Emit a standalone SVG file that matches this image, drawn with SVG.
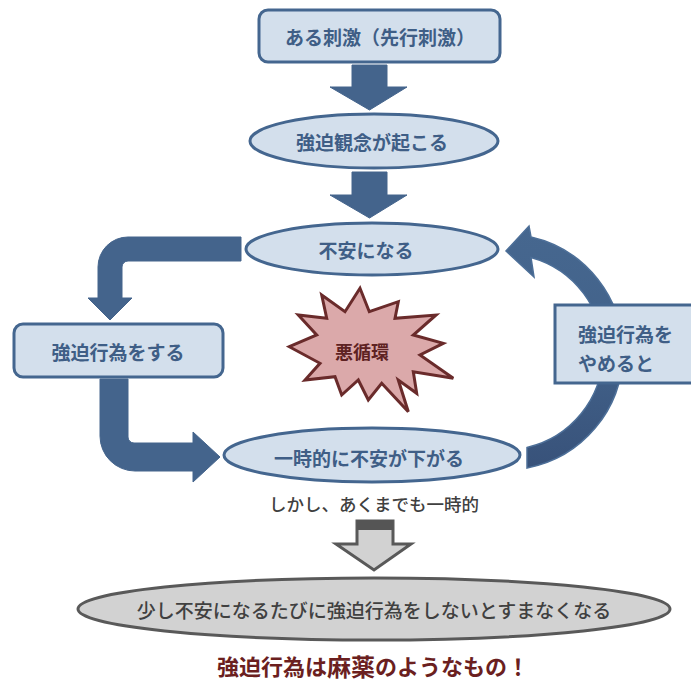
<svg xmlns="http://www.w3.org/2000/svg" width="691" height="682" viewBox="0 0 691 682">
<defs>
<linearGradient id="arcg" x1="0" y1="0" x2="0" y2="1">
<stop offset="0" stop-color="#46678f"/>
<stop offset="0.5" stop-color="#42628a"/>
<stop offset="1" stop-color="#38527a"/>
</linearGradient>
</defs>
<style>
.node{fill:#d3dfec;stroke:#44668f;stroke-width:3}
.t{font-family:"Noto Sans CJK JP","Noto Sans",sans-serif;font-weight:bold;font-size:19px;fill:#3f5e86;text-anchor:middle;dominant-baseline:central}
.arr{fill:#44648c;stroke:#44648c;stroke-width:1}
.gray{fill:#d2d2d2;stroke:#595959;stroke-width:3}
</style>
<rect width="691" height="682" fill="#ffffff"/>
<g id="connectors">
<path class="arr" d="M352 65 L387 65 L387 87 L407 87 L369.5 110 L330 87 L352 87 Z"/>
<path class="arr" d="M352 172 L387 172 L387 195 L407 195 L369.5 218 L330 195 L352 195 Z"/>
<path class="arr" d="M241 237 L128 237 A30 30 0 0 0 98 267 L98 298 L88 298 L110 320 L132 298 L122 298 L122 267 A6 6 0 0 1 128 261 L241 261 Z"/>
<path class="arr" d="M100 379 L128 379 L128 437 A6 6 0 0 0 134 443 L193 443 L193 432 L220 457 L193 482 L193 471 L135 471 A35 35 0 0 1 100 436 Z"/>
<path d="M531 237 A118 118 0 0 1 527 468 L527 447.5 A98 98 0 0 0 531 257.5 L534 277 L506 251 L529 226 Z" fill="url(#arcg)" stroke="#4d6f98" stroke-width="1.5"/>
<g id="gray-arrow">
<path class="gray" d="M357 521 L393 521 L393 544 L411 544 L374 570 L336 544 L357 544 Z"/>
<rect x="357" y="520" width="36" height="10" fill="#555555"/>
</g>
</g>
<g id="n1">
<rect class="node" x="259" y="10" width="241" height="52" rx="9"/>
<text class="t" x="380" y="36">ある刺激（先行刺激）</text>
</g>
<g id="n2">
<ellipse class="node" cx="374" cy="141" rx="124" ry="27"/>
<text class="t" x="372" y="141">強迫観念が起こる</text>
</g>
<g id="n3">
<ellipse class="node" cx="372" cy="249" rx="126" ry="26"/>
<text class="t" x="366" y="249">不安になる</text>
</g>
<g id="n4">
<rect class="node" x="14" y="324" width="209" height="53" rx="9"/>
<text class="t" x="118" y="351">強迫行為をする</text>
</g>
<g id="n5">
<ellipse class="node" cx="372" cy="455" rx="148" ry="27"/>
<text class="t" x="369" y="457">一時的に不安が下がる</text>
</g>
<g id="n6">
<rect class="node" x="555" y="305" width="140" height="78"/>
<text class="t" x="578" y="333" style="text-anchor:start">強迫行為を</text>
<text class="t" x="578" y="362" style="text-anchor:start">やめると</text>
</g>
<g id="burst">
<path d="M360 288.3 L369.3 311.7 L398.3 301.7 L395 318.3 L436 315 L413.3 335 L443.3 343.3 L420 355 L453.3 378.3 L413.3 371.7 L416.7 393.3 L398.3 380 L408.3 411.7 L381.7 383.3 L368.3 400 L358.3 380 L341.7 395 L335 376.7 L305 380 L320 363.3 L289.3 346.7 L316.7 335 L298.3 315 L326.7 318.3 L321.7 295 L345 311.7 Z" fill="#dba9aa" stroke="#6a2b2b" stroke-width="3" stroke-linejoin="miter"/>
<text class="t" x="362" y="351" style="fill:#5e2222;font-size:18px">悪循環</text>
</g>
<g id="note">
<text class="t" x="374" y="503" style="fill:#404040;font-size:17.5px;font-weight:500">しかし、あくまでも一時的</text>
</g>
<g id="n7">
<ellipse class="gray" cx="374" cy="609" rx="296" ry="31"/>
<text class="t" x="374" y="609" style="fill:#404040;font-weight:500">少し不安になるたびに強迫行為をしないとすまなくなる</text>
</g>
<g id="conclusion">
<text class="t" x="373" y="665" style="fill:#6b1f1f;font-size:22px">強迫行為は<tspan style="font-size:24px">麻薬</tspan>のようなもの！</text>
</g>
</svg>
